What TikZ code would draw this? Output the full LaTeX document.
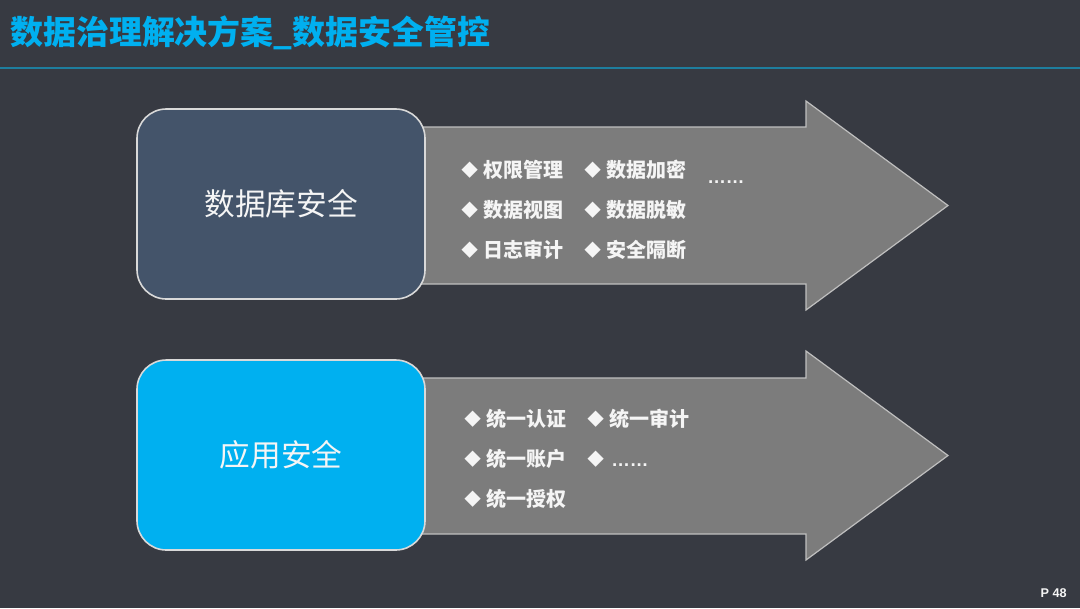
\documentclass[tikz,border=0pt]{standalone}
\usepackage{fontspec}
\setmainfont{Noto Sans CJK SC}
\newfontfamily\latinf{Liberation Sans}
\definecolor{bgc}{HTML}{373A42}
\definecolor{titlec}{HTML}{00B0F0}
\definecolor{rulec}{HTML}{1E7E9E}
\definecolor{dbc}{HTML}{44546A}
\definecolor{appc}{HTML}{00B0F0}
\definecolor{arrowc}{HTML}{7C7C7C}
\definecolor{arrowline}{HTML}{BFBFBF}
\definecolor{boxline}{HTML}{D9D9D9}
\definecolor{txtc}{HTML}{F5F5F5}
\newcommand{\bul}{\raisebox{1pt}{\fontsize{12.5pt}{13pt}\selectfont ◆}\hspace{4pt}}
\begin{document}
\begin{tikzpicture}[x=0.75pt,y=-0.75pt,
  catbox/.style={draw=boxline, line width=1.2pt, rounded corners=22pt,
    minimum width=216pt, minimum height=142.5pt, inner sep=0pt,
    text=txtc, font=\fontsize{23pt}{27pt}\selectfont},
  bigarrow/.style={fill=arrowc, draw=arrowline, line width=0.9pt, line join=miter},
  item/.style={anchor=west, inner sep=0pt, text=txtc,
    font=\fontsize{15pt}{18pt}\selectfont\bfseries},
  dots/.style={anchor=base west, inner sep=0pt, text=txtc,
    font=\fontsize{14pt}{18pt}\selectfont\latinf\bfseries}]
\useasboundingbox (0,0) rectangle (1080,608);
\fill[bgc] (0,0) rectangle (1080,608);
% title
\node[anchor=west, inner sep=0pt, text=titlec,
  font=\fontsize{24.7pt}{30pt}\selectfont\bfseries] (title) at (10,33) {数据治理解决方案\_数据安全管控};
\coordinate (ruleL) at (0,68);
\coordinate (ruleR) at (1080,68);
\draw[rulec, line width=1pt] (ruleL) -- (ruleR);
% arrow 1
\draw[bigarrow] (410,127) -- (806,127) -- (806,101) -- (948,205.5) -- (806,310) -- (806,284) -- (410,284) -- cycle;
% arrow 2
\draw[bigarrow] (410,378) -- (806,378) -- (806,351) -- (948,455.5) -- (806,560) -- (806,534) -- (410,534) -- cycle;
% boxes
\node[catbox, fill=dbc] (db) at (281,204) {数据库安全};
\node[catbox, fill=appc] (app) at (281,455) {应用安全};
% items of arrow 1
\node[item] (i1) at (461,170) {\bul 权限管理};
\node[item] (i2) at (584,170) {\bul 数据加密};
\node[dots] (i3) at (707,183) {……};
\node[item] (i4) at (461,210) {\bul 数据视图};
\node[item] (i5) at (584,210) {\bul 数据脱敏};
\node[item] (i6) at (461,250) {\bul 日志审计};
\node[item] (i7) at (584,250) {\bul 安全隔断};
% items of arrow 2
\node[item] (j1) at (464,419) {\bul 统一认证};
\node[item] (j2) at (587,419) {\bul 统一审计};
\node[item] (j3) at (464,459) {\bul 统一账户};
\node[item] (j4) at (587,459) {\bul};
\node[dots] (j5) at (611,466) {……};
\node[item] (j6) at (464,499) {\bul 统一授权};
% page number
\node[anchor=east, inner sep=0pt, text=txtc,
  font=\fontsize{9.5pt}{11pt}\selectfont\latinf\bfseries] (page) at (1067,593) {P 48};
\end{tikzpicture}
\end{document}
